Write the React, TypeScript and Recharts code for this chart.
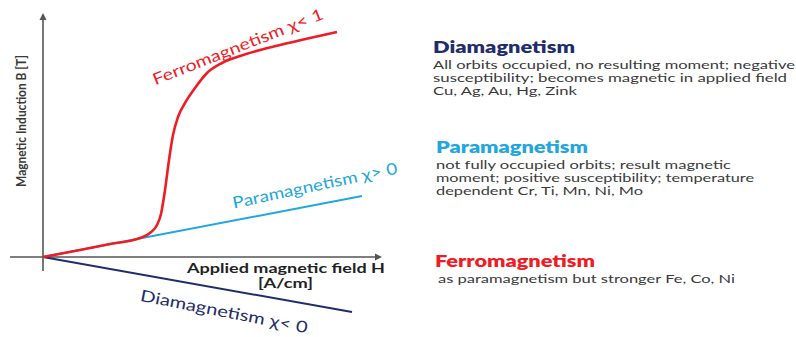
import { LineChart, Line, XAxis, YAxis, ReferenceLine } from "recharts";

// Applied field H (A/cm) against induction B (T), arbitrary units
const ferroH = [0, 3.7, 6.7, 9.7, 10.7, 11.4, 11.8, 12.2, 12.6, 13.0, 13.5, 14.2, 15.2, 16.4, 17.9, 19.7, 21.7, 23.7, 26.7, 29.4];
const ferroB = [0, 0.7, 1.3, 1.9, 2.4, 3.2, 4.3, 6.7, 9.7, 12.2, 14.0, 15.4, 16.9, 18.4, 19.4, 20.1, 20.7, 21.2, 21.9, 22.5];
const paraH = [0, 31.9];
const paraB = [0, 6.1];
const diaH = [0, 30.9];
const diaB = [0, -5.5];

const toPoints = (hs: number[], bs: number[]) => hs.map((h, i) => ({ h, b: bs[i] }));

const ferroData = toPoints(ferroH, ferroB);
const paraData = toPoints(paraH, paraB);
const diaData = toPoints(diaH, diaB);

const FONT = "Lato, 'Open Sans', sans-serif";
const AXIS_COLOR = "#555555";
const TEXT_COLOR = "#3a3a3a";
const RED = "#ee1c25";
const BLUE = "#21a6e0";
const NAVY = "#1f2d6b";

// axis line with a small filled arrow at its far end
const ArrowAxis = (props: any) => {
  const { x1, y1, x2, y2 } = props;
  const dx = x2 - x1;
  const dy = y2 - y1;
  const len = Math.sqrt(dx * dx + dy * dy) || 1;
  const ux = dx / len;
  const uy = dy / len;
  const bx = x2 - ux * 7;
  const by = y2 - uy * 7;
  const px = -uy * 3.5;
  const py = ux * 3.5;
  return (
    <g>
      <line x1={x1} y1={y1} x2={bx + ux * 2} y2={by + uy * 2} stroke={AXIS_COLOR} strokeWidth={1.6} />
      <polygon
        points={`${x2},${y2} ${bx + px},${by + py} ${bx - px},${by - py}`}
        fill={AXIS_COLOR}
      />
    </g>
  );
};

const notes = [
  {
    title: "Diamagnetism",
    color: NAVY,
    x: 433,
    y: 53,
    titleLen: 142,
    lines: [
      { text: "All orbits occupied, no resulting moment; negative", len: 362 },
      { text: "susceptibility; becomes magnetic in applied field", len: 354 },
      { text: "Cu, Ag, Au, Hg, Zink", len: 144 },
    ],
  },
  {
    title: "Paramagnetism",
    color: BLUE,
    x: 436,
    y: 153,
    titleLen: 152,
    lines: [
      { text: "not fully occupied orbits; result magnetic", len: 295 },
      { text: "moment; positive susceptibility; temperature", len: 318 },
      { text: "dependent Cr, Ti, Mn, Ni, Mo", len: 207 },
    ],
  },
  {
    title: "Ferromagnetism",
    color: RED,
    x: 435,
    y: 267,
    titleLen: 160,
    lines: [{ text: "as paramagnetism but stronger Fe, Co, Ni", len: 297, dx: 3 }],
  },
];

const curveLabels = [
  { text: "Ferromagnetism \u03c7< 1", color: RED, x: 240, y: 52, angle: -21.5, len: 182 },
  { text: "Paramagnetism \u03c7> 0", color: BLUE, x: 316, y: 191, angle: -12, len: 168 },
  { text: "Diamagnetism \u03c7< 0", color: NAVY, x: 223, y: 317, angle: 11, len: 170 },
];

export default function App() {
  return (
    <div style={{ position: "absolute", left: 0, top: 0, width: 796, height: 337, background: "#fff" }}>
      <LineChart
        width={796}
        height={337}
        margin={{ top: 7, right: 403, bottom: 10, left: 13 }}
      >
        <XAxis dataKey="h" type="number" domain={[-3, 35]} hide allowDataOverflow />
        <YAxis dataKey="b" type="number" domain={[-7, 25]} hide allowDataOverflow />
        <ReferenceLine
          segment={[{ x: 0, y: -1.4 }, { x: 0, y: 24.4 }]}
          shape={ArrowAxis}
          ifOverflow="visible"
        />
        <ReferenceLine
          segment={[{ x: -3.3, y: 0 }, { x: 33.9, y: 0 }]}
          shape={ArrowAxis}
          ifOverflow="visible"
        />
        <Line data={paraData} dataKey="b" type="linear" stroke={BLUE} strokeWidth={2} dot={false} isAnimationActive={false} />
        <Line data={diaData} dataKey="b" type="linear" stroke={NAVY} strokeWidth={2} dot={false} isAnimationActive={false} />
        <Line data={ferroData} dataKey="b" type="monotone" stroke={RED} strokeWidth={2.6} dot={false} isAnimationActive={false} />
      </LineChart>
      <svg
        width={796}
        height={337}
        style={{ position: "absolute", left: 0, top: 0, pointerEvents: "none" }}
        fontFamily={FONT}
      >
        <text
          x={26}
          y={121}
          transform="rotate(-90 26 121)"
          textAnchor="middle"
          fontSize={13}
          fontWeight={700}
          fill={TEXT_COLOR}
          textLength={132}
          lengthAdjust="spacingAndGlyphs"
        >
          Magnetic Induction B [T]
        </text>
        <text x={187} y={273} fontSize={13.5} fontWeight={700} fill="#222" textLength={198} lengthAdjust="spacingAndGlyphs">
          Applied magnetic field H
        </text>
        <text x={258} y={288} fontSize={13.5} fontWeight={700} fill="#222" textLength={55} lengthAdjust="spacingAndGlyphs">
          [A/cm]
        </text>
        {curveLabels.map((c) => (
          <text
            key={c.text}
            x={c.x}
            y={c.y}
            transform={`rotate(${c.angle} ${c.x} ${c.y})`}
            textAnchor="middle"
            fontSize={16}
            fill={c.color}
            textLength={c.len}
            lengthAdjust="spacingAndGlyphs"
          >
            {c.text}
          </text>
        ))}
        {notes.map((n) => (
          <g key={n.title}>
            <text
              x={n.x}
              y={n.y}
              fontSize={16}
              fontWeight={800}
              fill={n.color}
              textLength={n.titleLen}
              lengthAdjust="spacingAndGlyphs"
            >
              {n.title}
            </text>
            {n.lines.map((l, i) => (
              <text
                key={l.text}
                x={n.x + ((l as any).dx || 0)}
                y={n.y + 16 + i * 13}
                fontSize={10.8}
                fill={TEXT_COLOR}
                textLength={l.len}
                lengthAdjust="spacingAndGlyphs"
              >
                {l.text}
              </text>
            ))}
          </g>
        ))}
      </svg>
    </div>
  );
}
